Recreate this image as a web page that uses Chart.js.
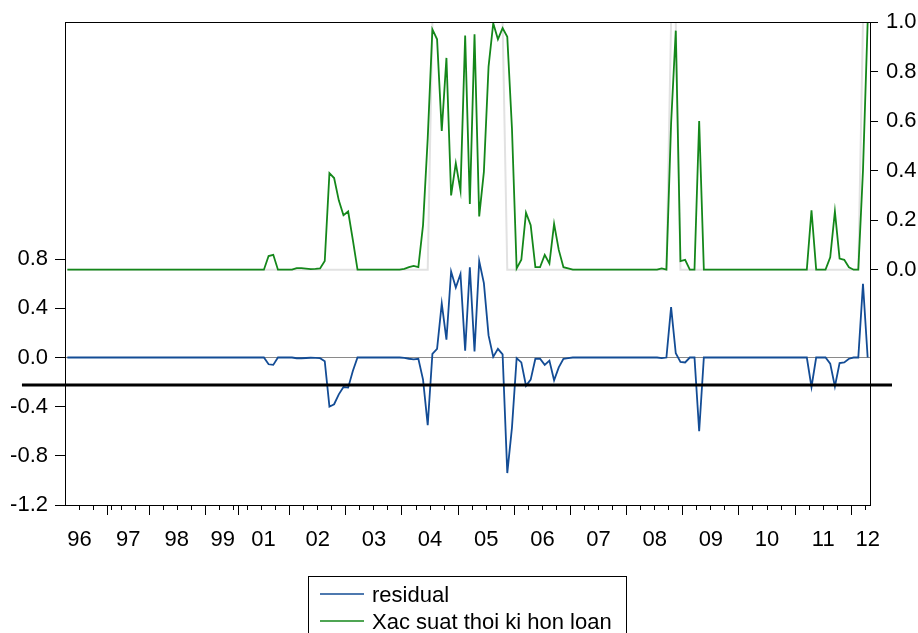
<!DOCTYPE html>
<html>
<head>
<meta charset="utf-8">
<script src="https://cdn.jsdelivr.net/npm/chart.js@4.4.1/dist/chart.umd.min.js"></script>
<style>
  html, body { margin: 0; padding: 0; background: #fff; }
</style>
</head>
<body>
<canvas id="chart" width="918" height="633"></canvas>
<script>
// monthly observations, index 0..171
const residual = [
  0,0,0,0,0,0,0,0,0,0,0,0,
  0,0,0,0,0,0,0,0,0,0,0,0,
  0,0,0,0,0,0,0,0,0,0,0,0,
  0,0,0,0,0,0,0,-0.055,-0.06,0,0,0,
  0,-0.006,-0.006,-0.004,-0.002,-0.003,-0.005,-0.03,-0.40,-0.38,-0.30,-0.24,
  -0.245,-0.11,0,0,0,0,0,0,0,0,0,0,
  -0.003,-0.01,-0.015,-0.01,-0.18,-0.55,0.03,0.07,0.44,0.145,0.70,0.57,
  0.68,0.055,0.735,0.05,0.785,0.605,0.18,0.005,0.07,0.025,-0.94,-0.57,
  -0.005,-0.04,-0.23,-0.18,-0.01,-0.01,-0.06,-0.025,-0.185,-0.08,-0.01,-0.005,
  0,0,0,0,0,0,0,0,0,0,0,0,
  0,0,0,0,0,0,0,-0.005,0,0.41,0.035,-0.035,
  -0.04,0,0,-0.60,0,0,0,0,0,0,0,0,
  0,0,0,0,0,0,0,0,0,0,0,0,
  0,0,0,-0.24,0,0,0,-0.05,-0.235,-0.045,-0.04,-0.01,
  0,0,0.6,0
];

const prob = [
  0,0,0,0,0,0,0,0,0,0,0,0,
  0,0,0,0,0,0,0,0,0,0,0,0,
  0,0,0,0,0,0,0,0,0,0,0,0,
  0,0,0,0,0,0,0,0.055,0.06,0,0,0,
  0,0.006,0.006,0.004,0.002,0.003,0.005,0.035,0.39,0.37,0.28,0.22,
  0.235,0.12,0,0,0,0,0,0,0,0,0,0,
  0.003,0.01,0.015,0.01,0.18,0.53,0.97,0.93,0.56,0.855,0.30,0.43,
  0.32,0.945,0.265,0.95,0.215,0.395,0.82,0.995,0.93,0.975,0.94,0.57,
  0.005,0.04,0.23,0.18,0.01,0.01,0.06,0.025,0.185,0.08,0.01,0.005,
  0,0,0,0,0,0,0,0,0,0,0,0,
  0,0,0,0,0,0,0,0.005,0,0.59,0.965,0.035,
  0.04,0,0,0.60,0,0,0,0,0,0,0,0,
  0,0,0,0,0,0,0,0,0,0,0,0,
  0,0,0,0.24,0,0,0,0.05,0.235,0.045,0.04,0.01,
  0,0,0.4,1.0
];

// crisis regime indicator (light grey line)
const regime = [
  0,0,0,0,0,0,0,0,0,0,0,0,
  0,0,0,0,0,0,0,0,0,0,0,0,
  0,0,0,0,0,0,0,0,0,0,0,0,
  0,0,0,0,0,0,0,0,0,0,0,0,
  0,0,0,0,0,0,0,0,0,0,0,0,
  0,0,0,0,0,0,0,0,0,0,0,0,
  0,0,0,0,0,0,1,1,1,1,1,1,
  1,1,1,1,1,1,1,1,1,1,0,0,
  0,0,0,0,0,0,0,0,0,0,0,0,
  0,0,0,0,0,0,0,0,0,0,0,0,
  0,0,0,0,0,0,0,0,0,1,1,0,
  0,0,0,0,0,0,0,0,0,0,0,0,
  0,0,0,0,0,0,0,0,0,0,0,0,
  0,0,0,0,0,0,0,0,0,0,0,0,
  0,0,1,1
];

const yearLabels = ['96','97','98','99','01','02','03','04','05','06','07','08','09','10','11','12'];
const yearLabelPos = [2.6, 13, 23.4, 33.2, 41.9, 53.5, 65.5, 77.5, 89.5, 101.5, 113.5, 125.5, 137.5, 149.5, 161.5, 171];
const majorTicks = [8.5, 17.5, 29.5, 36.5, 47.5, 59.5, 71.5, 83.5, 95.5, 107.5, 119.5, 131.5, 143.5, 155.5, 167.5];
const earlyMinorTicks = [2.5, 5.5, 9.5, 11.5, 14.5, 20.5, 23.5, 26.5, 32.5, 35.5, 38.5, 41.5, 44.5];
const leftTicks = [-1.2, -0.8, -0.4, 0, 0.4, 0.8];
const rightTicks = [0, 0.2, 0.4, 0.6, 0.8, 1.0];
const cutoff = -0.22;

const minorTicks = earlyMinorTicks.slice();
for (let t = 50.5; t < 171.5; t += 3) {
  if (!majorTicks.includes(t)) minorTicks.push(t);
}

const FONT = { family: '"Liberation Sans", Arial, sans-serif', size: 22 };
const xMin = -0.5, xMax = residual.length - 0.5;

const toXY = arr => arr.map((v, i) => ({ x: i, y: v }));

const boxPlugin = {
  id: 'box',
  afterDatasetsDraw(chart) {
    const { ctx, chartArea: a, scales } = chart;
    ctx.save();
    // black reference line, runs past the frame
    const y = Math.round(scales.y.getPixelForValue(cutoff));
    ctx.strokeStyle = '#000';
    ctx.lineWidth = 3;
    ctx.beginPath();
    ctx.moveTo(scales.x.getPixelForValue(-9.7), y);
    ctx.lineTo(scales.x.getPixelForValue(176.2), y);
    ctx.stroke();
    // frame
    ctx.lineWidth = 1;
    ctx.strokeRect(a.left + 0.5, a.top + 0.5, a.right - a.left, a.bottom - a.top);
    ctx.restore();
  }
};

const legendPlugin = {
  id: 'boxLegend',
  afterDraw(chart) {
    const ctx = chart.ctx;
    const items = chart.data.datasets.filter(d => d.label);
    ctx.save();
    ctx.strokeStyle = '#000';
    ctx.lineWidth = 1;
    ctx.strokeRect(308.5, 576.5, 318, 80);
    ctx.font = FONT.size + 'px ' + FONT.family;
    ctx.fillStyle = '#000';
    ctx.textBaseline = 'alphabetic';
    items.forEach((d, i) => {
      const y = 594 + i * 27;
      ctx.strokeStyle = d.borderColor;
      ctx.lineWidth = 1.6;
      ctx.beginPath();
      ctx.moveTo(320, y);
      ctx.lineTo(364, y);
      ctx.stroke();
      ctx.fillText(d.label, 372, y + 7.5);
    });
    ctx.restore();
  }
};

new Chart(document.getElementById('chart'), {
  type: 'line',
  data: {
    datasets: [
      {
        label: 'residual',
        data: toXY(residual),
        yAxisID: 'y',
        borderColor: '#134c95',
        borderWidth: 1.8,
        pointRadius: 0,
        tension: 0,
        order: 1
      },
      {
        label: 'Xac suat thoi ki hon loan',
        data: toXY(prob),
        yAxisID: 'y1',
        borderColor: '#14871a',
        borderWidth: 1.8,
        pointRadius: 0,
        tension: 0,
        order: 2
      },
      {
        label: '',
        data: toXY(regime),
        yAxisID: 'y1',
        borderColor: '#e2e2e2',
        borderWidth: 2,
        pointRadius: 0,
        tension: 0,
        order: 3
      }
    ]
  },
  options: {
    responsive: false,
    animation: false,
    layout: { padding: { top: 22, left: 0, right: 0, bottom: 0 } },
    plugins: {
      legend: { display: false },
      tooltip: { enabled: false }
    },
    scales: {
      x: {
        type: 'linear', position: 'bottom', weight: 0,
        min: xMin, max: xMax,
        afterBuildTicks: s => { s.ticks = majorTicks.map(v => ({ value: v })); },
        afterFit: s => { s.height = 0; },
        ticks: { display: false, autoSkip: false },
        grid: { drawOnChartArea: false, tickLength: 10, tickColor: '#000', tickWidth: 1 },
        border: { display: false }
      },
      xm: {
        type: 'linear', position: 'bottom', weight: 1,
        min: xMin, max: xMax,
        afterBuildTicks: s => { s.ticks = minorTicks.map(v => ({ value: v })); },
        afterFit: s => { s.height = 0; },
        ticks: { display: false, autoSkip: false },
        grid: { drawOnChartArea: false, tickLength: 5, tickColor: '#000', tickWidth: 1 },
        border: { display: false }
      },
      xl: {
        type: 'linear', position: 'bottom', weight: 2,
        min: xMin, max: xMax,
        afterBuildTicks: s => { s.ticks = yearLabelPos.map(v => ({ value: v })); },
        afterFit: s => { s.height = 128; },
        ticks: {
          autoSkip: false, maxRotation: 0, padding: 14,
          font: FONT, color: '#000',
          callback: (v, i) => yearLabels[i]
        },
        grid: { display: false },
        border: { display: false }
      },
      y: {
        position: 'left',
        min: -1.2, max: 2.73,
        afterBuildTicks: s => { s.ticks = leftTicks.map(v => ({ value: v })); },
        afterFit: s => { s.width = 65; },
        ticks: {
          padding: 7, font: FONT, color: '#000',
          callback: v => v.toFixed(1)
        },
        grid: {
          tickLength: 10, tickColor: '#000',
          color: c => (c.tick && c.tick.value === 0) ? '#8a8a8a' : 'rgba(0,0,0,0)',
          lineWidth: 1
        },
        border: { display: false }
      },
      y1: {
        position: 'right',
        min: -0.95, max: 1.0,
        afterBuildTicks: s => { s.ticks = rightTicks.map(v => ({ value: v })); },
        afterFit: s => { s.width = 48; },
        ticks: {
          padding: 8, font: FONT, color: '#000',
          callback: v => v.toFixed(1)
        },
        grid: { drawOnChartArea: false, tickLength: 8, tickColor: '#000' },
        border: { display: false }
      }
    }
  },
  plugins: [boxPlugin, legendPlugin]
});
</script>
</body>
</html>
